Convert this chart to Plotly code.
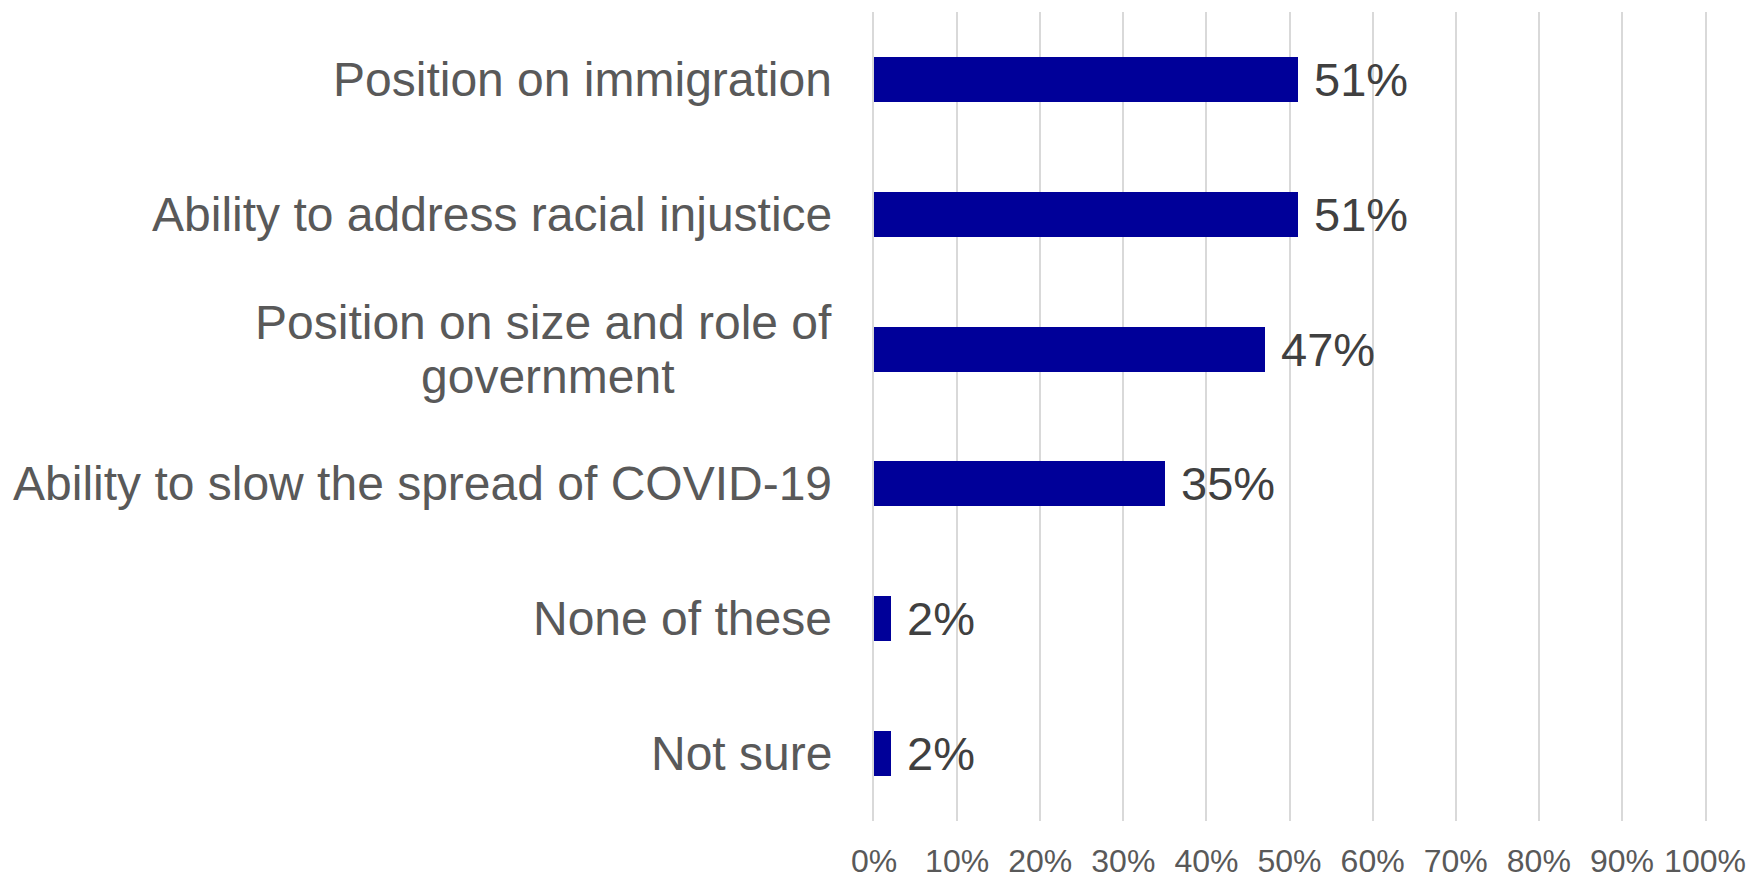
import plotly.graph_objects as go

categories = [
    "Position on immigration",
    "Ability to address racial injustice",
    "Position on size and role of<br>government",
    "Ability to slow the spread of COVID-19",
    "None of these",
    "Not sure",
]
values = [51, 51, 47, 35, 2, 2]
tick_vals = [0, 10, 20, 30, 40, 50, 60, 70, 80, 90, 100]
tick_text = [f"{v}%" for v in tick_vals]

FONT = "Liberation Sans, Arial, sans-serif"
LABEL_FONT = dict(family=FONT, size=48, color="#595959")
ids = list(range(len(categories)))

fig = go.Figure()
fig.add_trace(go.Bar(
    x=values,
    y=ids,
    orientation="h",
    marker=dict(color="#000099", line=dict(width=0)),
    width=0.334,
    hoverinfo="skip",
))

for i, (c, v) in enumerate(zip(categories, values)):
    lines = c.split("<br>")
    if len(lines) == 1:
        fig.add_annotation(
            x=0, xref="x", y=i, yref="y", text=c, showarrow=False,
            xanchor="right", yanchor="middle", xshift=-40, font=LABEL_FONT,
        )
    else:
        # tighter line spacing like the original; second line centred under the first
        fig.add_annotation(
            x=0, xref="x", y=i, yref="y", text=lines[0], showarrow=False,
            xanchor="right", yanchor="middle", xshift=-40, yshift=27,
            font=LABEL_FONT,
        )
        fig.add_annotation(
            x=0, xref="x", y=i, yref="y", text=lines[1], showarrow=False,
            xanchor="center", yanchor="middle", xshift=-327, yshift=-27,
            font=LABEL_FONT,
        )
    fig.add_annotation(
        x=v, xref="x", y=i, yref="y", text=f"{v}%", showarrow=False,
        xanchor="left", yanchor="middle", xshift=14,
        font=dict(family=FONT, size=47, color="#404040"),
    )

fig.update_layout(
    width=1746, height=873,
    margin=dict(l=874, r=41, t=12, b=52, autoexpand=False),
    paper_bgcolor="white", plot_bgcolor="white",
    showlegend=False,
    bargap=0,
    xaxis=dict(
        range=[0, 100], tickvals=tick_vals, ticktext=tick_text,
        showgrid=True, gridcolor="#d9d9d9", gridwidth=1.5,
        zeroline=False, showline=False, ticks="",
        ticklabelstandoff=18, automargin=False,
        tickfont=dict(family=FONT, size=32, color="#595959"),
        fixedrange=True,
    ),
    yaxis=dict(
        range=[len(categories) - 0.5, -0.5],
        showticklabels=False, showgrid=False, zeroline=False,
        showline=True, mirror=True, linecolor="#d9d9d9", linewidth=1.5,
        ticks="", fixedrange=True, automargin=False,
    ),
)

fig.write_html("out.html", config={"displayModeBar": False},
               post_script="document.body.style.margin='0';")
